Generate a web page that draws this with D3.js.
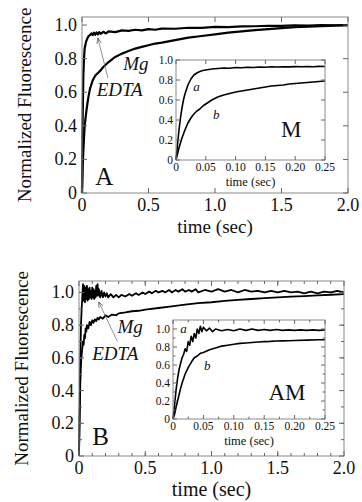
<!DOCTYPE html>
<html>
<head>
<meta charset="utf-8">
<script src="https://cdn.jsdelivr.net/npm/d3@7"></script>
<style>
  body { margin: 0; background: #fff; }
  svg text { font-family: "Liberation Serif", "Times New Roman", Times, serif; }
</style>
</head>
<body>
<div id="chart"></div>
<script>
// ---- data: [time (sec), normalized fluorescence] ----
const mgA = [[0,0],[0.005,0.45],[0.01,0.7],[0.015,0.8],[0.02,0.86],[0.03,0.9],[0.04,0.92],[0.05,0.935],[0.06,0.94],[0.07,0.95],[0.08,0.94],[0.09,0.955],[0.1,0.942],[0.11,0.956],[0.12,0.945],[0.13,0.958],[0.14,0.948],[0.16,0.96],[0.18,0.95],[0.2,0.962],[0.25,0.958],[0.3,0.968],[0.35,0.965],[0.4,0.972],[0.45,0.968],[0.5,0.976],[0.55,0.972],[0.6,0.979],[0.7,0.978],[0.8,0.984],[0.9,0.983],[1.0,0.989],[1.1,0.988],[1.2,0.992],[1.3,0.993],[1.4,0.996],[1.5,0.995],[1.6,0.998],[1.7,0.997],[1.8,1.0],[1.9,0.999],[2.0,1.0]];
const edtaA = [[0,0],[0.005,0.15],[0.01,0.25],[0.015,0.33],[0.02,0.4],[0.03,0.47],[0.04,0.53],[0.05,0.58],[0.06,0.62],[0.08,0.67],[0.1,0.7],[0.12,0.715],[0.14,0.73],[0.16,0.75],[0.18,0.765],[0.2,0.78],[0.25,0.81],[0.3,0.83],[0.35,0.845],[0.4,0.86],[0.45,0.87],[0.5,0.88],[0.55,0.89],[0.6,0.895],[0.7,0.91],[0.8,0.925],[0.9,0.935],[1.0,0.945],[1.1,0.955],[1.2,0.962],[1.3,0.97],[1.4,0.976],[1.5,0.982],[1.6,0.987],[1.7,0.99],[1.8,0.994],[1.9,0.997],[2.0,1.0]];
const insetA_a = [[0,0],[0.0025,0.15],[0.005,0.3],[0.0075,0.42],[0.01,0.52],[0.0125,0.6],[0.015,0.66],[0.02,0.75],[0.025,0.81],[0.03,0.85],[0.035,0.87],[0.04,0.885],[0.045,0.895],[0.05,0.9],[0.06,0.91],[0.07,0.915],[0.08,0.92],[0.09,0.918],[0.1,0.925],[0.11,0.922],[0.12,0.928],[0.13,0.925],[0.14,0.93],[0.15,0.927],[0.16,0.932],[0.17,0.93],[0.18,0.933],[0.19,0.931],[0.2,0.934],[0.21,0.933],[0.22,0.935],[0.23,0.933],[0.24,0.936],[0.25,0.935]];
const insetA_b = [[0,0],[0.0025,0.06],[0.005,0.12],[0.0075,0.17],[0.01,0.22],[0.0125,0.26],[0.015,0.3],[0.02,0.37],[0.025,0.42],[0.03,0.46],[0.035,0.49],[0.04,0.51],[0.045,0.54],[0.05,0.56],[0.06,0.6],[0.07,0.63],[0.08,0.65],[0.09,0.665],[0.1,0.68],[0.11,0.69],[0.12,0.7],[0.13,0.71],[0.14,0.72],[0.15,0.73],[0.16,0.74],[0.17,0.745],[0.18,0.75],[0.19,0.76],[0.2,0.765],[0.21,0.77],[0.22,0.775],[0.23,0.78],[0.24,0.785],[0.25,0.79]];

const mgB = [[0,0],[0.005,0.3],[0.01,0.6],[0.015,0.8],[0.02,0.9],[0.025,0.97],[0.03,1.05],[0.035,0.95],[0.04,1.04],[0.045,0.94],[0.05,1.03],[0.055,0.96],[0.06,1.04],[0.065,0.95],[0.07,1.02],[0.075,0.96],[0.08,1.03],[0.085,0.97],[0.09,1.01],[0.095,0.96],[0.1,1.03],[0.105,0.97],[0.11,1.02],[0.115,0.96],[0.12,1.01],[0.125,0.97],[0.13,1.04],[0.135,0.98],[0.14,1.05],[0.145,0.98],[0.15,1.02],[0.16,0.97],[0.17,1.01],[0.18,0.97],[0.19,1.0],[0.2,0.975],[0.21,0.995],[0.22,0.97],[0.24,0.99],[0.26,0.97],[0.28,0.985],[0.3,0.97],[0.32,0.985],[0.35,0.975],[0.38,0.99],[0.4,0.98],[0.43,0.995],[0.45,0.985],[0.48,1.0],[0.5,0.99],[0.53,1.005],[0.55,0.995],[0.58,1.01],[0.6,1.0],[0.63,1.01],[0.65,1.0],[0.68,1.015],[0.7,1.0],[0.73,1.015],[0.75,1.005],[0.78,1.02],[0.8,1.005],[0.83,1.015],[0.85,1.005],[0.88,1.02],[0.9,1.0],[0.95,1.015],[1.0,1.005],[1.05,1.02],[1.1,1.005],[1.15,1.015],[1.2,1.0],[1.25,1.015],[1.3,1.005],[1.35,1.01],[1.4,1.0],[1.45,1.01],[1.5,1.0],[1.55,1.01],[1.6,1.0],[1.65,1.005],[1.7,0.995],[1.75,1.005],[1.8,0.995],[1.85,1.005],[1.9,1.0],[1.95,1.01],[2.0,1.0]];
const edtaB = [[0,0],[0.005,0.25],[0.01,0.45],[0.015,0.56],[0.02,0.62],[0.03,0.7],[0.035,0.68],[0.04,0.74],[0.045,0.72],[0.05,0.78],[0.055,0.76],[0.06,0.8],[0.07,0.78],[0.08,0.82],[0.09,0.8],[0.1,0.83],[0.11,0.815],[0.12,0.835],[0.13,0.825],[0.14,0.845],[0.15,0.835],[0.16,0.85],[0.18,0.84],[0.2,0.86],[0.22,0.85],[0.25,0.865],[0.28,0.86],[0.3,0.872],[0.35,0.878],[0.4,0.885],[0.45,0.888],[0.5,0.895],[0.6,0.905],[0.7,0.915],[0.8,0.925],[0.9,0.935],[1.0,0.94],[1.1,0.948],[1.2,0.955],[1.3,0.96],[1.4,0.965],[1.5,0.97],[1.6,0.975],[1.7,0.978],[1.8,0.982],[1.9,0.986],[2.0,0.99]];
const insetB_a = [[0,0],[0.0025,0.15],[0.005,0.32],[0.0075,0.45],[0.01,0.55],[0.0125,0.62],[0.015,0.68],[0.0175,0.72],[0.02,0.78],[0.0225,0.75],[0.025,0.86],[0.0275,0.82],[0.03,0.92],[0.0325,0.86],[0.035,0.95],[0.0375,0.9],[0.04,1.0],[0.0425,0.95],[0.045,1.03],[0.0475,0.97],[0.05,1.02],[0.055,0.98],[0.06,1.01],[0.065,0.97],[0.07,1.0],[0.08,0.98],[0.09,0.995],[0.1,0.98],[0.11,1.0],[0.12,0.985],[0.13,1.0],[0.14,0.985],[0.15,0.995],[0.16,0.985],[0.17,0.995],[0.18,0.985],[0.19,0.99],[0.2,0.985],[0.21,0.99],[0.22,0.985],[0.23,0.99],[0.24,0.985],[0.25,0.99]];
const insetB_b = [[0,0],[0.0025,0.05],[0.005,0.13],[0.0075,0.2],[0.01,0.27],[0.0125,0.34],[0.015,0.4],[0.02,0.5],[0.025,0.57],[0.03,0.63],[0.035,0.68],[0.04,0.7],[0.045,0.73],[0.05,0.74],[0.06,0.77],[0.07,0.79],[0.08,0.81],[0.09,0.82],[0.1,0.83],[0.11,0.84],[0.12,0.845],[0.13,0.85],[0.14,0.855],[0.15,0.86],[0.16,0.862],[0.17,0.866],[0.18,0.868],[0.19,0.87],[0.2,0.872],[0.22,0.876],[0.24,0.88],[0.25,0.88]];

// tick labels
const mainXTicks = [0, 0.5, 1.0, 1.5, 2.0];
const mainYTicks = [0, 0.2, 0.4, 0.6, 0.8, 1.0];
const insetXTicks = [0, 0.05, 0.10, 0.15, 0.20, 0.25];
const insetYTicks = [0, 0.2, 0.4, 0.6, 0.8, 1.0];

const W = 362, H = 502;
const FONT = "'Liberation Serif', 'Times New Roman', Times, serif";
const svg = d3.select('#chart').append('svg').attr('width', W).attr('height', H)
  .attr('font-family', FONT);

const fmtMain = d => d === 0 ? '0' : d3.format('.1f')(d);
const fmtInsX = d => d === 0 ? '0' : d3.format('.2f')(d);

const frameColor = '#8a8a8a';

function frame(g, x, y, tickLen, xTicks, yTicks, xMinor, yMinor) {
  const [x0, x1] = x.range(), [y0, y1] = y.range();
  g.append('rect').attr('x', x0).attr('y', y1).attr('width', x1 - x0).attr('height', y0 - y1)
    .attr('fill', 'none').attr('stroke', frameColor).attr('stroke-width', 1);
  const tk = g.append('g').attr('stroke', '#666').attr('stroke-width', 1);
  const addX = (vals, len) => vals.forEach(v => {
    tk.append('line').attr('x1', x(v)).attr('x2', x(v)).attr('y1', y0).attr('y2', y0 - len);
    tk.append('line').attr('x1', x(v)).attr('x2', x(v)).attr('y1', y1).attr('y2', y1 + len);
  });
  const addY = (vals, len) => vals.forEach(v => {
    tk.append('line').attr('y1', y(v)).attr('y2', y(v)).attr('x1', x0).attr('x2', x0 + len);
    tk.append('line').attr('y1', y(v)).attr('y2', y(v)).attr('x1', x1).attr('x2', x1 - len);
  });
  addX(xTicks, tickLen); addY(yTicks, tickLen);
  if (xMinor) addX(xMinor, tickLen * 0.6);
  if (yMinor) addY(yMinor, tickLen * 0.6);
}

function txt(g, size) {
  return g.append('text').attr('font-family', FONT).attr('font-size', size).attr('fill', '#111');
}

function drawPanel(p) {
  const g = svg.append('g');
  const x = d3.scaleLinear().domain([0, 2]).range([p.left, p.right]);
  const y = d3.scaleLinear().domain([0, p.ymax]).range([p.bottom, p.top]);
  const line = d3.line().x(d => x(d[0])).y(d => y(d[1]));

  // curves
  g.append('g').selectAll('path').data(p.curves).join('path')
    .attr('d', line).attr('fill', 'none').attr('stroke', '#000')
    .attr('stroke-width', p.lw).attr('stroke-linejoin', 'round');

  frame(g, x, y, 5, mainXTicks, mainYTicks, p.xMinor, p.yMinor);

  // tick labels
  mainXTicks.forEach(d => txt(g, 18).attr('x', x(d)).attr('y', p.bottom + 18)
    .attr('text-anchor', 'middle').text(fmtMain(d)));
  mainYTicks.forEach(d => txt(g, 18).attr('x', p.left - 5).attr('y', y(d) + 6)
    .attr('text-anchor', 'end').text(fmtMain(d)));

  txt(g, p.xtitleSize).attr('x', (p.left + p.right) / 2).attr('y', p.bottom + 40)
    .attr('text-anchor', 'middle').text('time (sec)');
  txt(g, 19).attr('transform', `translate(${p.ytitleX},${(p.top + p.bottom) / 2}) rotate(-90)`)
    .attr('text-anchor', 'middle').text('Normalized Fluorescence');

  // arrow + labels
  const [t0, v0, t1, v1] = p.arrow;
  g.append('line').attr('x1', x(t0)).attr('y1', y(v0)).attr('x2', x(t1)).attr('y2', y(v1))
    .attr('stroke', '#777').attr('stroke-width', 0.8).attr('marker-end', 'url(#arr)');
  p.labels.forEach(l => txt(g, 19).attr('x', x(l[0])).attr('y', y(l[1]))
    .attr('font-style', 'italic').text(l[2]));
  txt(g, 25).attr('x', x(p.letter[0])).attr('y', y(p.letter[1])).text(p.letter[2]);

  // inset
  const ins = p.inset;
  const gi = g.append('g');
  const xi = d3.scaleLinear().domain([0, 0.25]).range([ins.left, ins.right]);
  const yi = d3.scaleLinear().domain([0, ins.ymax]).range([ins.bottom, ins.top]);
  gi.append('rect').attr('x', ins.left).attr('y', ins.top).attr('width', ins.right - ins.left)
    .attr('height', ins.bottom - ins.top).attr('fill', '#fff');
  const li = d3.line().x(d => xi(d[0])).y(d => yi(d[1]));
  gi.append('g').selectAll('path').data(ins.curves).join('path')
    .attr('d', li).attr('fill', 'none').attr('stroke', '#000')
    .attr('stroke-width', 1.6).attr('stroke-linejoin', 'round');
  frame(gi, xi, yi, 4, insetXTicks, insetYTicks, ins.xMinor, ins.yMinor);
  insetXTicks.forEach(d => txt(gi, 11.5).attr('x', xi(d)).attr('y', ins.bottom + 11)
    .attr('text-anchor', 'middle').text(fmtInsX(d)));
  insetYTicks.forEach(d => txt(gi, 11.5).attr('x', ins.left - 3).attr('y', yi(d) + 4)
    .attr('text-anchor', 'end').text(fmtMain(d)));
  txt(gi, 12.5).attr('x', (ins.left + ins.right) / 2).attr('y', ins.bottom + 26)
    .attr('text-anchor', 'middle').text('time (sec)');
  ins.labels.forEach(l => txt(gi, 13).attr('x', xi(l[0])).attr('y', yi(l[1]))
    .attr('font-style', 'italic').text(l[2]));
  txt(gi, 23).attr('x', xi(ins.tag[0])).attr('y', yi(ins.tag[1])).text(ins.tag[2]);
}

svg.append('defs').append('marker').attr('id', 'arr').attr('viewBox', '0 0 10 10')
  .attr('refX', 9).attr('refY', 5).attr('markerWidth', 7).attr('markerHeight', 7)
  .attr('orient', 'auto').append('path').attr('d', 'M0,1 L10,5 L0,9').attr('fill', 'none')
  .attr('stroke', '#444').attr('stroke-width', 1.2);

drawPanel({
  left: 82, right: 348, top: 17, bottom: 193, ymax: 1.048, lw: 2.2,
  curves: [mgA, edtaA], xtitleSize: 19, ytitleX: 31,
  arrow: [0.195, 0.685, 0.12, 0.92],
  labels: [[0.31, 0.73, 'Mg'], [0.11, 0.58, 'EDTA']],
  letter: [0.1, 0.05, 'A'],
  inset: {
    left: 176, right: 325, top: 60, bottom: 160, ymax: 1.0,
    curves: [insetA_a, insetA_b],
    labels: [[0.029, 0.69, 'a'], [0.062, 0.41, 'b']],
    tag: [0.176, 0.23, 'M']
  }
});

drawPanel({
  left: 79, right: 344, top: 281, bottom: 456, ymax: 1.07, lw: 1.8,
  curves: [mgB, edtaB], xtitleSize: 20, ytitleX: 28,
  xMinor: d3.range(0.1, 2, 0.1), yMinor: d3.range(0.1, 1.07, 0.1),
  arrow: [0.29, 0.70, 0.15, 0.94],
  labels: [[0.29, 0.755, 'Mg'], [0.1, 0.59, 'EDTA']],
  letter: [0.1, 0.067, 'B'],
  inset: {
    left: 173, right: 325, top: 320, bottom: 419, ymax: 1.1,
    curves: [insetB_a, insetB_b],
    labels: [[0.012, 0.96, 'a'], [0.051, 0.54, 'b']],
    tag: [0.157, 0.21, 'AM'],
    xMinor: d3.range(0.025, 0.25, 0.05), yMinor: d3.range(0.1, 1.1, 0.2)
  }
});
</script>
</body>
</html>
